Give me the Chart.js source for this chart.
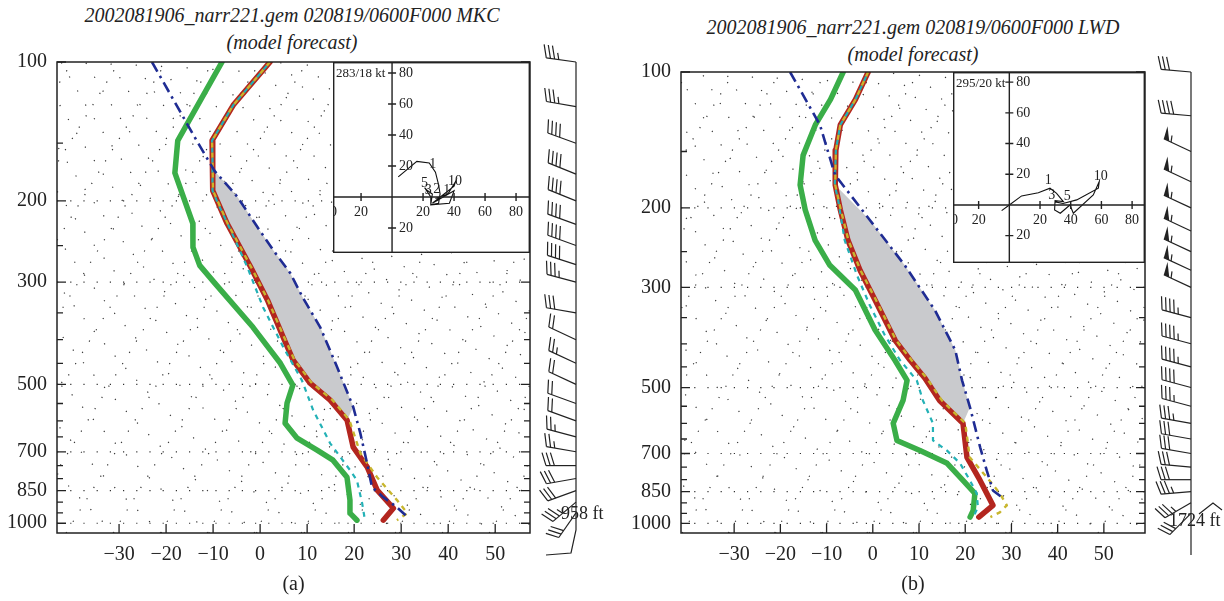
<!DOCTYPE html>
<html>
<head>
<meta charset="utf-8">
<title>NARR soundings MKC / LWD</title>
<script src="https://cdn.jsdelivr.net/npm/chart.js@4.4.1/dist/chart.umd.min.js"></script>
<style>
  html, body { margin: 0; padding: 0; background: #fff; }
  #page { position: relative; width: 1224px; height: 601px; overflow: hidden; }
  #page canvas { position: absolute; }
  .head { position: absolute; text-align: center; font: italic 20px "Liberation Serif", serif;
          line-height: 27px; color: #222; white-space: nowrap; }
</style>
</head>
<body>
<div id="page">
  <div class="head" style="left:0;top:2px;width:584px">2002081906_narr221.gem 020819/0600F000 MKC<br>(model forecast)</div>
  <div class="head" style="left:612px;top:14px;width:602px">2002081906_narr221.gem 020819/0600F000 LWD<br>(model forecast)</div>
  <canvas id="skewA" width="612" height="601" style="left:0;top:0"></canvas>
  <canvas id="skewB" width="612" height="601" style="left:612px;top:0"></canvas>
  <canvas id="hodoA" width="197" height="191" style="left:333px;top:62px"></canvas>
  <canvas id="hodoB" width="192" height="191" style="left:953px;top:72px"></canvas>
</div>
<script>
const FONT = '"Liberation Serif", "Times New Roman", serif';
const INK = '#222';
const SKEW = 60;  // isotherm skew, degC per decade of pressure
const skewX = (t, p) => t + SKEW * Math.log10(1000 / p);

const P_LABELS = [100, 200, 300, 500, 700, 850, 1000];
const P_MARKS = [100, 150, 200, 250, 300, 350, 400, 450, 500, 550, 600, 650, 700, 750, 800, 850, 900, 950, 1000];
const T_LABELS = [-30, -20, -10, 0, 10, 20, 30, 40, 50];
const HODO_U_TICKS = [-40, -20, 20, 40, 60, 80];
const HODO_V_TICKS = [-20, 20, 40, 60, 80];

// ---------- MKC ----------
const tempA_p = [100, 124, 148, 163, 190, 224, 278, 328, 395, 443, 497, 541, 598, 684, 756, 848, 928, 985];
const tempA_t = [-57.9, -60.1, -60.0, -57.4, -53.3, -46.0, -35.4, -27.5, -19.3, -14.2, -7.6, -1.1, 5.1, 9.9, 15.5, 20.6, 26.4, 25.8];
const virtA_p = [100, 124, 148, 163, 190, 224, 278, 328, 395, 443, 497, 541, 598, 705, 795, 891, 951, 985];
const virtA_t = [-57.9, -60.1, -60.0, -57.4, -53.3, -45.9, -35.3, -27.4, -19.1, -13.9, -7.2, -0.6, 5.6, 12.2, 18.9, 26.1, 30.0, 28.7];
const wetA_p = [100, 124, 148, 163, 190, 202, 231, 278, 340, 415, 490, 569, 671, 767, 807, 905, 985];
const wetA_t = [-57.9, -60.1, -60.0, -57.4, -53.4, -50.7, -44.5, -36.1, -27.5, -18.0, -9.7, -3.4, 4.5, 12.2, 15.0, 19.1, 21.9];
const dewA_p = [100, 148, 174, 224, 252, 276, 302, 376, 450, 502, 549, 607, 654, 694, 730, 795, 891, 951, 985];
const dewA_t = [-68.1, -67.3, -63.7, -53.3, -50.2, -46.4, -40.8, -27.0, -16.5, -11.0, -9.9, -7.7, -3.2, 2.6, 7.3, 12.5, 16.1, 17.8, 20.2];
const parcA_p = [100, 148, 172, 196, 228, 256, 287, 324, 376, 459, 560, 638, 730, 835, 878, 923, 961];
const parcA_t = [-83.0, -63.3, -55.6, -47.3, -39.1, -32.7, -26.1, -20.3, -12.7, -3.9, 4.7, 9.6, 14.4, 19.1, 22.8, 27.0, 29.9];
const capeA = [163, 598];

const hodoA_u = [4, 16, 24, 28, 30, 31, 30, 25, 26, 23, 21, 25, 25, 37, 40, 26, 40, 41, 36, 28];
const hodoA_v = [13, 23, 22, 16, 8, 2, -4, -5, 2, 4, 6, 0, -5, -4, 4, -4, 7, 10, 2, -1];
const hodoA_markU = [26.3, 20.9, 23.4, 28.8, 35.3, 40.6];
const hodoA_markV = [21.3, 8.8, 4.5, 5.0, 4.1, 9.9];
const hodoA_markT = ['1', '5', '3', '2', '1', '10'];

// ---------- LWD ----------
const tempB_p = [100, 115, 131, 149, 178, 202, 236, 275, 320, 393, 435, 477, 534, 600, 714, 803, 912, 968];
const tempB_t = [-61.0, -60.1, -60.0, -57.6, -53.1, -48.7, -43.0, -36.4, -29.2, -19.5, -13.6, -8.0, -1.9, 6.2, 11.6, 17.5, 23.6, 22.1];
const virtB_p = [100, 115, 131, 149, 178, 202, 236, 275, 320, 393, 435, 477, 534, 600, 714, 791, 858, 912, 945, 968];
const virtB_t = [-61.0, -60.1, -60.0, -57.6, -53.1, -48.6, -42.9, -36.3, -29.0, -19.3, -13.3, -7.6, -1.4, 6.7, 12.2, 18.6, 23.5, 26.6, 26.0, 24.6];
const wetB_p = [100, 115, 131, 149, 178, 192, 236, 282, 329, 383, 435, 482, 534, 600, 655, 689, 736, 803, 858, 921, 968];
const wetB_t = [-61.0, -60.1, -60.0, -57.6, -53.2, -50.5, -43.7, -36.4, -29.6, -22.4, -15.8, -9.5, -5.5, -0.3, 2.0, 6.3, 10.9, 15.3, 18.5, 20.6, 20.9];
const dewB_p = [100, 115, 131, 153, 178, 202, 236, 268, 304, 373, 435, 482, 534, 600, 655, 689, 736, 803, 858, 936, 968];
const dewB_t = [-66.4, -65.5, -65.4, -64.0, -60.7, -56.3, -50.1, -43.6, -34.8, -25.2, -16.9, -11.6, -9.8, -8.9, -5.8, 0.5, 8.1, 13.8, 18.1, 20.0, 20.2];
const parcB_p = [100, 131, 169, 213, 268, 337, 413, 482, 553, 678, 763, 845, 880];
const parcB_t = [-77.9, -64.4, -54.5, -40.9, -27.4, -14.9, -5.2, 0.3, 5.6, 13.1, 17.6, 21.6, 24.9];
const capeB = [178, 600];

const hodoB_u = [-5, 0, 8, 18.9, 26.5, 30.8, 35.2, 29.8, 29.5, 33.2, 39.5, 41.7, 54.7, 58.6, 58, 43.9, 35, 30];
const hodoB_v = [-3.7, 0, 5.9, 8, 10.9, 7.6, 2.2, 2.8, -3.3, -5.4, 0, -5.4, 6.5, 15.2, 10.9, 3.3, 1, 2];
const hodoB_markU = [25.4, 27.6, 37.7, 59.5];
const hodoB_markV = [16.3, 6.1, 5.9, 18.5];
const hodoB_markT = ['1', '3', '5', '10'];

// ---------- winds (direction deg, speed kt) ----------
const BARB_P = [100, 125, 150, 175, 200, 225, 250, 275, 300, 350, 400, 450, 500, 550, 600, 650, 700, 750, 800, 850, 900, 950];
const barbDirA = [278, 280, 290, 292, 292, 290, 290, 288, 285, 280, 295, 295, 295, 290, 290, 285, 280, 270, 260, 250, 230, 215];
const barbSpdA = [35, 35, 40, 40, 40, 40, 40, 40, 35, 30, 20, 25, 20, 20, 20, 25, 25, 30, 30, 30, 35, 30];
const barbDirB = [275, 275, 295, 295, 295, 295, 295, 295, 295, 285, 285, 285, 285, 285, 280, 280, 280, 275, 270, 265, 240, 225];
const barbSpdB = [30, 40, 55, 55, 55, 55, 55, 55, 55, 45, 45, 45, 40, 35, 35, 30, 30, 30, 30, 35, 35, 30];

Chart.defaults.font.family = FONT;
Chart.defaults.color = INK;

function curve(ps, ts) {
  return ps.map((p, i) => ({x: skewX(ts[i], p), y: p}));
}

// closed outline between parcel and environment for the shaded area
function capeShape(parcel, temp, band) {
  const up = parcel.filter(pt => pt.y > band[0] && pt.y < band[1]);
  const down = temp.filter(pt => pt.y >= band[0] && pt.y <= band[1]).reverse();
  return up.concat(down);
}

function drawBarb(ctx, x0, y0, dir, spd) {
  const r = dir * Math.PI / 180;
  const sx = Math.sin(r), sy = -Math.cos(r);   // toward the wind source
  const px = -sy, py = sx;                     // feather side
  const L = 30, F = 13, gap = 4.2;
  const tx = x0 + sx * L, ty = y0 + sy * L;
  ctx.beginPath();
  ctx.moveTo(x0, y0);
  ctx.lineTo(tx, ty);
  ctx.stroke();
  let rest = Math.round(spd / 5) * 5, d = 0;
  while (rest >= 50) {
    const ax = tx - sx * d, ay = ty - sy * d;
    ctx.beginPath();
    ctx.moveTo(ax, ay);
    ctx.lineTo(ax + px * F + sx * 2, ay + py * F + sy * 2);
    ctx.lineTo(ax - sx * 6, ay - sy * 6);
    ctx.closePath();
    ctx.fill();
    d += 8;
    rest -= 50;
  }
  ctx.beginPath();
  while (rest >= 10) {
    const ax = tx - sx * d, ay = ty - sy * d;
    ctx.moveTo(ax, ay);
    ctx.lineTo(ax + px * F + sx * 4, ay + py * F + sy * 4);
    d += gap;
    rest -= 10;
  }
  if (rest >= 5) {
    if (d === 0) d = gap;
    const ax = tx - sx * d, ay = ty - sy * d;
    ctx.moveTo(ax, ay);
    ctx.lineTo(ax + px * F / 2 + sx * 2, ay + py * F / 2 + sy * 2);
  }
  ctx.stroke();
}

function skewFrame(cfg) {
  return {
    id: 'skewFrame',
    beforeDatasetsDraw(chart) {
      const {ctx, chartArea: a, scales: {x, y}} = chart;
      ctx.save();
      ctx.beginPath();
      ctx.rect(a.left, a.top, a.width, a.height);
      ctx.clip();
      ctx.strokeStyle = '#333';
      ctx.lineWidth = 1.2;
      ctx.setLineDash([1.2, 12]);
      ctx.beginPath();
      P_LABELS.slice(1).forEach(p => {
        const yy = y.getPixelForValue(p);
        ctx.moveTo(a.left, yy);
        ctx.lineTo(a.right, yy);
      });
      for (let t = -110; t <= 50; t += 10) {
        ctx.moveTo(x.getPixelForValue(skewX(t, 1050)), y.getPixelForValue(1050));
        ctx.lineTo(x.getPixelForValue(skewX(t, 100)), y.getPixelForValue(100));
      }
      ctx.stroke();
      ctx.setLineDash([1.2, 15]);
      ctx.beginPath();
      for (let th = 240; th <= 470; th += 10) {
        for (let p = 1050; p >= 100; p -= 25) {
          const t = th * Math.pow(p / 1000, 0.286) - 273.15;
          const xx = x.getPixelForValue(skewX(t, p)), yy = y.getPixelForValue(p);
          if (p === 1050) ctx.moveTo(xx, yy); else ctx.lineTo(xx, yy);
        }
      }
      ctx.stroke();
      ctx.restore();
    },
    afterDraw(chart) {
      const {ctx, chartArea: a, scales: {x, y}} = chart;
      ctx.save();
      ctx.strokeStyle = INK;
      ctx.fillStyle = INK;
      ctx.setLineDash([]);
      ctx.lineWidth = 1.5;
      ctx.strokeRect(a.left, a.top, a.width, a.height);
      ctx.lineWidth = 1.3;
      ctx.beginPath();
      P_MARKS.forEach(p => {
        const yy = y.getPixelForValue(p), len = P_LABELS.includes(p) ? 9 : 6;
        ctx.moveTo(a.left, yy); ctx.lineTo(a.left + len, yy);
        ctx.moveTo(a.right, yy); ctx.lineTo(a.right - len, yy);
      });
      T_LABELS.forEach(t => {
        const xx = x.getPixelForValue(t);
        ctx.moveTo(xx, a.bottom); ctx.lineTo(xx, a.bottom - 9);
      });
      ctx.stroke();

      // wind column
      const bx = a.right + 46;
      ctx.lineWidth = 1.2;
      ctx.beginPath();
      ctx.moveTo(bx, y.getPixelForValue(100));
      if (cfg.ground === 'bend') {
        ctx.lineTo(bx, a.bottom - 3);
        ctx.lineTo(bx - 5, a.bottom + 20);
        ctx.lineTo(bx - 30, a.bottom + 22);
      } else {
        ctx.lineTo(bx, a.bottom + 22);
        ctx.moveTo(bx + 8, a.bottom - 19);
        ctx.lineTo(bx + 22, a.bottom - 30);
        ctx.lineTo(bx + 31, a.bottom - 23);
      }
      ctx.stroke();
      BARB_P.forEach((p, i) => drawBarb(ctx, bx, y.getPixelForValue(p), cfg.dir[i], cfg.spd[i]));
      ctx.font = `18px ${FONT}`;
      ctx.textBaseline = 'middle';
      ctx.textAlign = 'left';
      ctx.fillText(cfg.groundText, bx + cfg.groundDx, a.bottom + cfg.groundDy);
      ctx.restore();
    }
  };
}

function makeSkew(id, cfg) {
  const temp = curve(cfg.temp[0], cfg.temp[1]);
  const parcel = curve(cfg.parcel[0], cfg.parcel[1]);
  const line = (data, color, width, extra) => Object.assign({
    data, borderColor: color, borderWidth: width, pointRadius: 0, pointHitRadius: 0,
    tension: 0, fill: false, borderJoinStyle: 'round'
  }, extra || {});
  new Chart(document.getElementById(id), {
    type: 'line',
    data: {
      datasets: [
        line(parcel, '#1f2c93', 2.6, {borderDash: [11, 5, 2.5, 5]}),
        line(curve(cfg.virt[0], cfg.virt[1]), '#c8b62e', 2.4, {borderDash: [5, 5]}),
        line(curve(cfg.wet[0], cfg.wet[1]), '#23b1b6', 2.2, {borderDash: [5, 5], borderDashOffset: 5}),
        line(temp, '#b3261f', 5.5, {borderCapStyle: 'round'}),
        line(curve(cfg.dew[0], cfg.dew[1]), '#3aae48', 5.5, {borderCapStyle: 'round'}),
        line(capeShape(parcel, temp, cfg.cape), 'rgba(0,0,0,0)', 0,
             {fill: 'shape', backgroundColor: '#c9cacd'})
      ]
    },
    options: {
      responsive: false,
      animation: false,
      devicePixelRatio: 1,
      layout: {padding: {top: cfg.top, right: 612 - cfg.right, left: 0, bottom: 0}},
      plugins: {legend: {display: false}, tooltip: {enabled: false}},
      scales: {
        x: {
          type: 'linear', min: cfg.xMin, max: cfg.xMax,
          grid: {display: false, drawTicks: false}, border: {display: false},
          afterBuildTicks: s => { s.ticks = T_LABELS.map(v => ({value: v})); },
          afterFit: s => { s.height = 68; },
          ticks: {padding: 10, color: INK, font: {family: FONT, size: 20}, maxRotation: 0, autoSkip: false,
                  callback: v => v < 0 ? '\u2212' + (-v) : String(v)},
          title: {display: true, text: cfg.tag, color: INK, font: {family: FONT, size: 20},
                  padding: {top: 0, bottom: 4}}
        },
        y: {
          type: 'logarithmic', reverse: true, min: 100, max: 1050,
          grid: {display: false, drawTicks: false}, border: {display: false},
          afterBuildTicks: s => { s.ticks = P_LABELS.map(v => ({value: v})); },
          afterFit: s => { s.width = cfg.left; },
          ticks: {padding: 10, color: INK, font: {family: FONT, size: 20}, autoSkip: false,
                  callback: v => String(v)}
        }
      }
    },
    plugins: [skewFrame(cfg)]
  });
}

function hodoFrame(h) {
  return {
    id: 'hodoFrame',
    beforeDraw(chart) {
      const {ctx, width, height} = chart;
      ctx.save();
      ctx.fillStyle = '#fff';
      ctx.fillRect(0, 0, width, height);
      ctx.restore();
    },
    afterDraw(chart) {
      const {ctx, width, height, scales: {x, y}} = chart;
      const ox = x.getPixelForValue(0), oy = y.getPixelForValue(0);
      ctx.save();
      ctx.strokeStyle = INK;
      ctx.fillStyle = INK;
      ctx.lineWidth = 1.4;
      ctx.strokeRect(0.7, 0.7, width - 1.4, height - 1.4);
      ctx.beginPath();
      ctx.moveTo(0, oy); ctx.lineTo(width, oy);
      ctx.moveTo(ox, 0); ctx.lineTo(ox, height);
      HODO_U_TICKS.forEach(v => {
        const tx = x.getPixelForValue(v);
        ctx.moveTo(tx, oy - 4); ctx.lineTo(tx, oy + 4);
      });
      HODO_V_TICKS.forEach(v => {
        const ty = y.getPixelForValue(v);
        ctx.moveTo(ox - 4, ty); ctx.lineTo(ox + 4, ty);
      });
      ctx.stroke();
      ctx.font = `14px ${FONT}`;
      ctx.textBaseline = 'middle';
      ctx.textAlign = 'center';
      HODO_U_TICKS.forEach(v => {
        ctx.fillText(String(Math.abs(v)), x.getPixelForValue(v) + h.edgeShift * (v === -40), oy + 15);
      });
      ctx.textAlign = 'left';
      HODO_V_TICKS.forEach(v => {
        ctx.fillText(String(Math.abs(v)), ox + 7, y.getPixelForValue(v));
      });
      ctx.font = `13px ${FONT}`;
      ctx.fillText(h.motion, 3, 12);
      ctx.font = `14px ${FONT}`;
      ctx.textAlign = 'center';
      h.markT.forEach((t, i) => ctx.fillText(t, x.getPixelForValue(h.markU[i]), y.getPixelForValue(h.markV[i])));
      ctx.restore();
    }
  };
}

function makeHodo(id, h) {
  new Chart(document.getElementById(id), {
    type: 'line',
    data: {
      datasets: [{
        data: h.u.map((u, i) => ({x: u, y: h.v[i]})),
        borderColor: '#111', borderWidth: 1.1, pointRadius: 0, tension: 0, fill: false
      }]
    },
    options: {
      responsive: false,
      animation: false,
      devicePixelRatio: 1,
      layout: {padding: 0},
      plugins: {legend: {display: false}, tooltip: {enabled: false}},
      scales: {
        x: {type: 'linear', min: h.uMin, max: h.uMax, display: false},
        y: {type: 'linear', min: h.vMin, max: h.vMax, display: false}
      }
    },
    plugins: [hodoFrame(h)]
  });
}

makeSkew('skewA', {
  tag: '(a)', top: 62, left: 57, right: 530, xMin: -43.2, xMax: 57.4,
  temp: [tempA_p, tempA_t], virt: [virtA_p, virtA_t], wet: [wetA_p, wetA_t],
  dew: [dewA_p, dewA_t], parcel: [parcA_p, parcA_t], cape: capeA,
  dir: barbDirA, spd: barbSpdA,
  ground: 'bend', groundText: '958 ft', groundDx: -15, groundDy: -19
});
makeSkew('skewB', {
  tag: '(b)', top: 72, left: 69, right: 533, xMin: -41.5, xMax: 58.9,
  temp: [tempB_p, tempB_t], virt: [virtB_p, virtB_t], wet: [wetB_p, wetB_t],
  dew: [dewB_p, dewB_t], parcel: [parcB_p, parcB_t], cape: capeB,
  dir: barbDirB, spd: barbSpdB,
  ground: 'peak', groundText: '1724 ft', groundDx: -22, groundDy: -12
});
makeHodo('hodoA', {
  u: hodoA_u, v: hodoA_v, markU: hodoA_markU, markV: hodoA_markV, markT: hodoA_markT,
  motion: '283/18 kt', uMin: -38.1, uMax: 89.0, vMin: -36.1, vMax: 87.1, edgeShift: 0
});
makeHodo('hodoB', {
  u: hodoB_u, v: hodoB_v, markU: hodoB_markU, markV: hodoB_markV, markT: hodoB_markT,
  motion: '295/20 kt', uMin: -36.7, uMax: 88.4, vMin: -37.8, vMax: 86.6, edgeShift: 3
});
</script>
</body>
</html>
